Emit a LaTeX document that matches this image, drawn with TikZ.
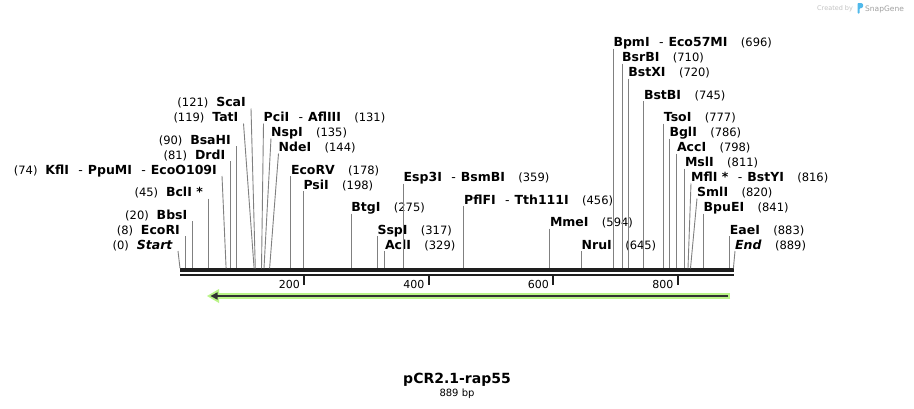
\documentclass[tikz,border=0pt]{standalone}
\usepackage{fontspec}
\setmainfont{DejaVu Sans}
\definecolor{cutgray}{RGB}{128,128,128}
\definecolor{mapdark}{RGB}{30,30,30}
\definecolor{featgreen}{RGB}{186,244,136}
\definecolor{featdark}{RGB}{50,50,50}
\definecolor{logoblue}{RGB}{80,185,235}
\definecolor{cbgray}{RGB}{195,195,195}
\definecolor{sggray}{RGB}{160,160,160}
\tikzset{
  namel/.style={inner sep=0pt, font=\fontsize{12.5}{14}\selectfont\bfseries},
  numl/.style={inner sep=0pt, font=\fontsize{11.5}{13}\selectfont},
  cutline/.style={draw=cutgray, line width=0.9pt},
  ticklab/.style={inner sep=0pt, font=\fontsize{11}{13}\selectfont},
  tickmark/.style={draw=mapdark, line width=2pt},
}
\newcommand\dd{\hspace{0.75em}{\mdseries-}\hspace{0.4em}}
% right-side label: id, row, top x, site x, name, number
\newcommand\Rsite[6]{%
  \node[namel, anchor=base west] (n#1) at (#3, #2+4.4) {#5};
  \node[numl, anchor=base west] (p#1) at ([xshift=13pt]n#1.base east) {(#6)};
  \coordinate (t#1) at (#3, #2+6);
  \coordinate (c#1) at (#4, 268.3);
  \draw[cutline] (t#1) -- (c#1);
}
% left-side label
\newcommand\Lsite[6]{%
  \node[namel, anchor=base east] (n#1) at (#3-5, #2+4.4) {#5};
  \node[numl, anchor=base east] (p#1) at ([xshift=-7.5pt]n#1.base west) {(#6)};
  \coordinate (t#1) at (#3, #2+6);
  \coordinate (c#1) at (#4, 268.3);
  \draw[cutline] (t#1) -- (c#1);
}
\begin{document}
\begin{tikzpicture}[x=1pt,y=-1pt]
\path[fill=white,use as bounding box] (0,0) rectangle (914,408);

% map bars
\coordinate (barTL) at (180,270);
\coordinate (barTR) at (734,270);
\coordinate (barBL) at (180,275);
\coordinate (barBR) at (734,275);
\draw[mapdark, line width=3.2pt] (barTL) -- (barTR);
\draw[mapdark, line width=2.6pt] (barBL) -- (barBR);

% ticks
\foreach \v/\tx in {200/304, 400/428.5, 600/553, 800/677.5}{
  \coordinate (tk\v) at (\tx,276.3);
  \coordinate (tb\v) at (\tx,285);
  \draw[tickmark] (tk\v) -- (tb\v);
  \node[ticklab, anchor=base east] (tl\v) at (\tx-4, 288.5) {\v};
}

% feature arrow
\coordinate (fR) at (730,296);
\coordinate (fL) at (216,296);
\draw[featgreen, line width=6pt] (fR) -- (fL);
\fill[featgreen] (207,296) -- (219,289) -- (219,303) -- cycle;
\coordinate (fdR) at (728,296);
\coordinate (fdL) at (215,296);
\draw[featdark, line width=1.8pt] (fdR) -- (fdL);
\fill[featdark] (210.5,296) -- (217.5,292.3) -- (217.5,299.7) -- cycle;

% left labels
\Lsite{s0}{245}{178}{180}{\textit{Start}}{0}
\Lsite{s8}{230}{185}{185}{EcoRI}{8}
\Lsite{s20}{215}{192.5}{192.5}{BbsI}{20}
\Lsite{s45}{192.5}{208}{208}{BclI *}{45}
\Lsite{s74}{170}{222}{226.1}{KflI\dd PpuMI\dd EcoO109I}{74}
\Lsite{s81}{155}{230.4}{230.4}{DrdI}{81}
\Lsite{s90}{140}{236}{236}{BsaHI}{90}
\Lsite{s119}{117.5}{243.5}{254.1}{TatI}{119}
\Lsite{s121}{102.5}{251}{255.3}{ScaI}{121}

% right labels
\Rsite{s131}{117.5}{263.5}{261.5}{PciI\dd AflIII}{131}
\Rsite{s135}{132.5}{271}{264}{NspI}{135}
\Rsite{s144}{147.5}{278.5}{269.6}{NdeI}{144}
\Rsite{s178}{170}{290.8}{290.8}{EcoRV}{178}
\Rsite{s198}{185}{303.3}{303.3}{PsiI}{198}
\Rsite{s275}{207.5}{351.2}{351.2}{BtgI}{275}
\Rsite{s317}{230}{377.3}{377.3}{SspI}{317}
\Rsite{s329}{245}{384.8}{384.8}{AclI}{329}
\Rsite{s359}{177.5}{403.5}{403.5}{Esp3I\dd BsmBI}{359}
\Rsite{s456}{200}{463.9}{463.9}{PflFI\dd Tth111I}{456}
\Rsite{s594}{222.5}{549.8}{549.8}{MmeI}{594}
\Rsite{s645}{245}{581.5}{581.5}{NruI}{645}
\Rsite{s696}{42.5}{613.3}{613.3}{BpmI\dd Eco57MI}{696}
\Rsite{s710}{57.5}{622}{622}{BsrBI}{710}
\Rsite{s720}{72.5}{628.2}{628.2}{BstXI}{720}
\Rsite{s745}{95}{643.8}{643.8}{BstBI}{745}
\Rsite{s777}{117.5}{663.7}{663.7}{TsoI}{777}
\Rsite{s786}{132.5}{669.3}{669.3}{BglI}{786}
\Rsite{s798}{147.5}{676.8}{676.8}{AccI}{798}
\Rsite{s811}{162.5}{684.8}{684.8}{MslI}{811}
\Rsite{s816}{177.5}{691}{688}{MflI *\dd BstYI}{816}
\Rsite{s820}{192.5}{697}{690.5}{SmlI}{820}
\Rsite{s841}{207.5}{703.5}{703.5}{BpuEI}{841}
\Rsite{s883}{230}{729.7}{729.7}{EaeI}{883}
\Rsite{s889}{245}{735}{733.4}{\textit{End}}{889}

% title
\node[inner sep=0pt, anchor=base, font=\fontsize{14}{16}\selectfont\bfseries] (title) at (457,383) {pCR2.1-rap55};
\node[inner sep=0pt, anchor=base, font=\fontsize{10}{12}\selectfont] (len) at (457,396) {889 bp};

% credit
\node[inner sep=0pt, anchor=base west, font=\fontsize{6.5}{8}\selectfont, text=cbgray] (cb) at (817,10.5) {Created by};
\fill[logoblue, rounded corners=0.8pt] (857.5,13.5) -- (857.5,3) -- (862,3) -- (863.5,5.5) -- (862,8.2) -- (859.7,8.2) -- (859.7,13.5) -- cycle;
\node[inner sep=0pt, anchor=base west, font=\fontsize{7.5}{9}\selectfont, text=sggray] (sg) at (865,11) {SnapGene};
\end{tikzpicture}
\end{document}
